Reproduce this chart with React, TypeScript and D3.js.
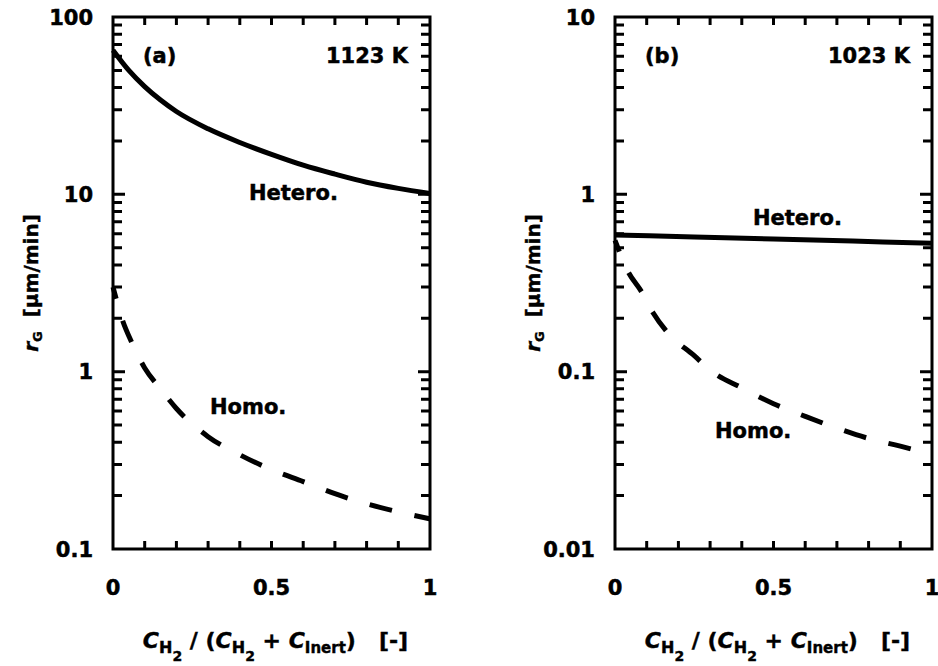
import React from "react";
import * as d3 from "d3";

// Mole-fraction axis values shared by both panels
const xHeteroA = [0, 0.05, 0.1, 0.15, 0.2, 0.3, 0.4, 0.5, 0.6, 0.7, 0.8, 0.9, 1];
const heteroA = [65, 50, 40.5, 34, 29.3, 23.4, 19.6, 16.8, 14.6, 13, 11.7, 10.8, 10.1];

const xHomoA = [0, 0.03, 0.06, 0.1, 0.15, 0.2, 0.3, 0.4, 0.5, 0.6, 0.7, 0.8, 0.9, 1];
const homoA = [3.0, 1.95, 1.45, 1.05, 0.8, 0.62, 0.43, 0.34, 0.28, 0.24, 0.205, 0.18, 0.162, 0.148];

const xHeteroB = [0, 0.25, 0.5, 0.75, 1];
const heteroB = [0.59, 0.575, 0.56, 0.545, 0.53];

const xHomoB = [0, 0.04, 0.085, 0.12, 0.17, 0.25, 0.3, 0.4, 0.5, 0.6, 0.7, 0.8, 0.9, 1];
const homoB = [0.55, 0.37, 0.28, 0.215, 0.163, 0.123, 0.102, 0.081, 0.066, 0.056, 0.048, 0.042, 0.038, 0.034];

const xTickValues = [0, 0.1, 0.2, 0.3, 0.4, 0.5, 0.6, 0.7, 0.8, 0.9, 1];
const xTickLabels = ["0", "0.5", "1"];
const yDecadesA = ["0.1", "1", "10", "100"];
const yDecadesB = ["0.01", "0.1", "1", "10"];

const FONT = "'DejaVu Sans', sans-serif";
const NB = "\u00A0";

type Panel = {
  left: number;
  tag: string;
  temp: string;
  decades: string[];
  hetero: { x: number[]; y: number[] };
  homo: { x: number[]; y: number[] };
  heteroLabel: [number, number];
  homoLabel: [number, number];
};

const panels: Panel[] = [
  {
    left: 113,
    tag: "(a)",
    temp: "1123 K",
    decades: yDecadesA,
    hetero: { x: xHeteroA, y: heteroA },
    homo: { x: xHomoA, y: homoA },
    heteroLabel: [136, 183],
    homoLabel: [97, 397],
  },
  {
    left: 615,
    tag: "(b)",
    temp: "1023 K",
    decades: yDecadesB,
    hetero: { x: xHeteroB, y: heteroB },
    homo: { x: xHomoB, y: homoB },
    heteroLabel: [138, 208],
    homoLabel: [100, 421],
  },
];

const PW = 317;
const TOP = 17;
const BOTTOM = 549;

function scalesFor(p: Panel) {
  const lo = +p.decades[0];
  const hi = +p.decades[p.decades.length - 1];
  const x = d3.scaleLinear().domain([0, 1]).range([p.left, p.left + PW]);
  const y = d3.scaleLog().domain([lo, hi]).range([BOTTOM, TOP]);
  return { x, y };
}

// frame outline plus inward ticks on all four sides, as one path
function framePath(p: Panel): string {
  const { x, y } = scalesFor(p);
  const right = p.left + PW;
  const path = d3.path();
  path.rect(p.left, TOP, PW, BOTTOM - TOP);
  xTickValues.forEach((v) => {
    path.moveTo(x(v), BOTTOM);
    path.lineTo(x(v), BOTTOM - 8);
    path.moveTo(x(v), TOP);
    path.lineTo(x(v), TOP + 8);
  });
  const addY = (v: number, len: number) => {
    path.moveTo(p.left, y(v));
    path.lineTo(p.left + len, y(v));
    path.moveTo(right, y(v));
    path.lineTo(right - len, y(v));
  };
  const yMajor = p.decades.map((s) => +s);
  yMajor.forEach((v) => addY(v, 12));
  yMajor.slice(0, -1).forEach((base) => {
    for (let k = 2; k <= 9; k++) addY(base * k, 9);
  });
  return path.toString();
}

function PanelView({ p }: { p: Panel }) {
  const { x, y } = scalesFor(p);
  const right = p.left + PW;

  const curve = d3
    .line<[number, number]>()
    .x((d) => x(d[0]))
    .y((d) => y(d[1]))
    .curve(d3.curveMonotoneX);

  const hetPts = p.hetero.x.map((v, i) => [v, p.hetero.y[i]] as [number, number]);
  const homPts = p.homo.x.map((v, i) => [v, p.homo.y[i]] as [number, number]);
  const cx = p.left + PW / 2;

  return (
    <g>
      {/* data curves */}
      <path d={curve(hetPts) ?? ""} fill="none" stroke="#000" strokeWidth={5} />
      <path
        d={curve(homPts) ?? ""}
        fill="none"
        stroke="#000"
        strokeWidth={5}
        strokeDasharray="23 23"
        strokeDashoffset={11}
      />

      {/* frame with ticks */}
      <path d={framePath(p)} fill="none" stroke="#000" strokeWidth={3} />

      {/* tick labels and annotations */}
      <g fontFamily={FONT} fontWeight="bold" fontSize={21} fill="#000" stroke="#000" strokeWidth={0.5}>
        {p.decades.map((lab) => (
          <text key={"yl" + lab} x={p.left - 20} y={y(+lab) + 7.5} textAnchor="end">
            {lab}
          </text>
        ))}
        {xTickLabels.map((lab) => (
          <text key={"xl" + lab} x={x(+lab)} y={595} textAnchor="middle">
            {lab}
          </text>
        ))}
        <text x={p.left + 30} y={63}>{p.tag}</text>
        <text x={right - 22} y={63} textAnchor="end">{p.temp}</text>
        <text x={p.left + p.heteroLabel[0]} y={p.heteroLabel[1] + 17}>Hetero.</text>
        <text x={p.left + p.homoLabel[0]} y={p.homoLabel[1] + 17}>Homo.</text>
      </g>

      {/* x-axis title */}
      <text
        x={cx + 4}
        y={648}
        textAnchor="middle"
        fontFamily={FONT}
        fontWeight="bold"
        fontSize={22}
        stroke="#000"
        strokeWidth={0.4}
      >
        <tspan fontStyle="italic">C</tspan>
        <tspan fontSize={16} dy={5}>H</tspan>
        <tspan fontSize={14} dy={8}>2</tspan>
        <tspan dy={-13}>{NB}/{NB}(</tspan>
        <tspan fontStyle="italic">C</tspan>
        <tspan fontSize={16} dy={5}>H</tspan>
        <tspan fontSize={14} dy={8}>2</tspan>
        <tspan dy={-13}>{NB}+{NB}</tspan>
        <tspan fontStyle="italic">C</tspan>
        <tspan fontSize={15} dy={5}>Inert</tspan>
        <tspan dy={-5}>){NB}{NB}{NB}[-]</tspan>
      </text>

      {/* y-axis title */}
      <text
        transform={`translate(${p.left - 75},${(TOP + BOTTOM) / 2}) rotate(-90)`}
        textAnchor="middle"
        fontFamily={FONT}
        fontWeight="bold"
        fontSize={20}
        stroke="#000"
        strokeWidth={0.4}
      >
        <tspan fontStyle="italic">r</tspan>
        <tspan fontSize={13} dy={4}>G</tspan>
        <tspan dy={-4}>{NB}{NB}[µm/min]</tspan>
      </text>
    </g>
  );
}

export default function App() {
  return (
    <svg width={938} height={666} style={{ position: "absolute", left: 0, top: 0 }}>
      {panels.map((p) => (
        <PanelView key={p.tag} p={p} />
      ))}
    </svg>
  );
}
